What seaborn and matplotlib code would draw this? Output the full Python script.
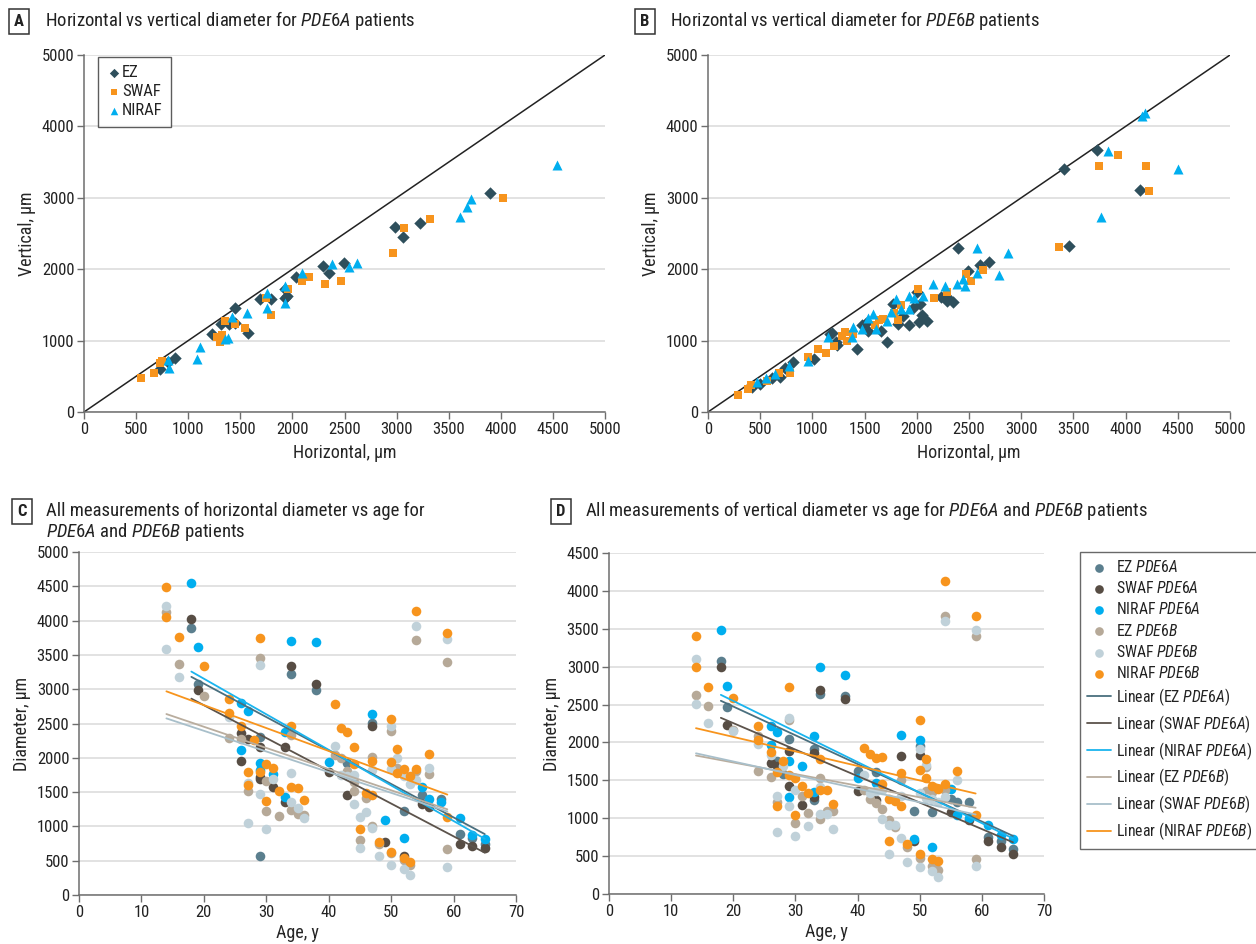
import numpy as np
import pandas as pd
import matplotlib
matplotlib.use('Agg')
import matplotlib.pyplot as plt
import seaborn as sns
from matplotlib import font_manager as fm

# ---------------- Panel A (PDE6A): horizontal vs vertical, um ----------------
a_ez_h = [729, 806, 873, 1228, 1315, 1392, 1449, 1449, 1574, 1689, 1795, 1929, 1929, 1948, 2035, 2294, 2351, 2495, 2985, 3061, 3225, 3896]
a_ez_v = [602, 700, 756, 1092, 1232, 1232, 1457, 1246, 1106, 1583, 1583, 1723, 1597, 1625, 1891, 2045, 1947, 2087, 2591, 2451, 2647, 3067]
a_swaf_h = [547, 672, 729, 749, 1305, 1324, 1276, 1353, 1449, 1545, 1795, 1747, 1958, 2092, 2159, 2313, 2466, 2966, 3071, 3321, 4021]
a_swaf_v = [476, 546, 686, 714, 980, 1078, 1050, 1274, 1232, 1176, 1358, 1597, 1723, 1835, 1891, 1793, 1835, 2227, 2577, 2703, 2997]
a_niraf_h = [816, 806, 1084, 1113, 1353, 1382, 1420, 1564, 1756, 1756, 1929, 1929, 2092, 2380, 2543, 2620, 3608, 3676, 3714, 4539]
a_niraf_v = [616, 728, 742, 910, 1022, 1036, 1330, 1387, 1457, 1667, 1527, 1765, 1947, 2073, 2031, 2087, 2731, 2871, 2983, 3459]

# ---------------- Panel B (PDE6B) ----------------
b_ez_h = [420, 500, 612, 685, 733, 810, 1011, 1170, 1187, 1228, 1235, 1431, 1475, 1517, 1529, 1653, 1710, 1771, 1819, 1867, 1922, 1964, 2000, 2028, 2025, 2054, 2098, 2233, 2293, 2287, 2348, 2487, 2395, 2605, 2692, 3410, 3723, 4138, 3461]
b_ez_v = [346, 393, 472, 495, 621, 705, 739, 1094, 1108, 986, 939, 883, 1220, 1248, 1140, 1136, 977, 1510, 1230, 1351, 1225, 1463, 1687, 1515, 1258, 1365, 1272, 1617, 1608, 1561, 1547, 1981, 2290, 2063, 2105, 3408, 3665, 3104, 2330]
b_swaf_h = [290, 386, 409, 562, 680, 785, 955, 1057, 1130, 1210, 1280, 1315, 1328, 1386, 1600, 1641, 1680, 1785, 1824, 1852, 2015, 2168, 2293, 2468, 2516, 2631, 3365, 3748, 3930, 4195, 4227]
b_swaf_v = [238, 318, 379, 435, 543, 543, 776, 884, 823, 926, 1066, 1126, 1000, 1094, 1220, 1290, 1304, 1384, 1290, 1505, 1720, 1594, 1678, 1931, 1837, 1988, 2315, 3451, 3605, 3451, 3100]
b_niraf_h = [466, 555, 642, 778, 960, 1152, 1386, 1376, 1472, 1529, 1577, 1606, 1715, 1753, 1801, 1849, 1929, 1922, 1970, 2060, 2152, 2270, 2382, 2445, 2462, 2580, 2577, 2787, 2871, 3760, 3835, 4160, 4186, 4505]
b_niraf_v = [425, 472, 533, 645, 715, 1056, 1187, 1056, 1164, 1314, 1374, 1164, 1276, 1398, 1584, 1444, 1627, 1444, 1603, 1627, 1791, 1767, 1791, 1861, 1767, 1945, 2290, 1921, 2226, 2730, 3661, 4152, 4190, 3408]

# ---------------- Panel C: horizontal diameter vs age ----------------
c_ez_a_age = [18, 19, 29, 29, 34, 38, 43, 47, 52, 55, 58, 61, 63, 65]
c_ez_a_um = [3887, 3076, 2308, 565, 3222, 2988, 1920, 2503, 1227, 1458, 1399, 885, 825, 743]
c_swaf_a_age = [18, 19, 26, 27, 29, 26, 29, 29, 31, 33, 33, 34, 38, 40, 43, 47, 49, 52, 55, 56, 61, 63, 65]
c_swaf_a_um = [4023, 2984, 2364, 2274, 2152, 1958, 1723, 1685, 1569, 2162, 1350, 3338, 3076, 1796, 1458, 2463, 767, 569, 1327, 1287, 739, 714, 688]
c_niraf_a_age = [18, 19, 26, 27, 26, 29, 29, 31, 33, 33, 34, 38, 40, 47, 49, 52, 55, 56, 58, 61, 63, 65]
c_niraf_a_um = [4544, 3620, 2794, 2682, 2114, 1928, 1822, 1759, 2381, 1423, 3707, 3688, 1943, 2634, 1093, 835, 1570, 1394, 1350, 1117, 875, 810]
c_ez_b_age = [14, 16, 20, 24, 26, 27, 29, 30, 30, 32, 34, 34, 35, 36, 41, 42, 43, 44, 44, 45, 46, 47, 47, 48, 50, 50, 51, 52, 53, 54, 54, 56, 59, 59]
c_ez_b_um = [4120, 3363, 2905, 2289, 2274, 1516, 3455, 1665, 1227, 1155, 2332, 1239, 1181, 1166, 2041, 2002, 1812, 1643, 1519, 802, 1418, 1006, 2016, 743, 2391, 607, 1846, 510, 432, 3717, 1808, 1764, 3391, 675]
c_swaf_b_age = [14, 14, 16, 24, 27, 27, 29, 29, 30, 31, 34, 34, 35, 36, 41, 42, 43, 44, 44, 45, 45, 46, 47, 47, 48, 50, 50, 50, 51, 52, 52, 53, 53, 54, 54, 56, 59, 59]
c_swaf_b_um = [4217, 3581, 3183, 2590, 1636, 1050, 3353, 1467, 960, 1691, 1778, 1351, 1271, 1117, 2172, 1749, 1735, 1749, 1322, 1141, 680, 1214, 971, 1822, 569, 2463, 1832, 432, 2002, 1735, 374, 1613, 287, 3916, 1676, 1846, 3736, 413]
c_niraf_b_age = [14, 14, 16, 20, 24, 24, 26, 28, 29, 27, 27, 29, 30, 30, 31, 32, 34, 34, 35, 36, 41, 42, 43, 44, 44, 45, 46, 47, 47, 48, 50, 50, 50, 51, 51, 52, 52, 53, 53, 54, 54, 56, 59, 59]
c_niraf_b_um = [4490, 4057, 3756, 3338, 2861, 2657, 2468, 2259, 3742, 1787, 1603, 1787, 1910, 1373, 1846, 1519, 2463, 1574, 1564, 1385, 2784, 2430, 2372, 2153, 1910, 956, 1482, 1458, 1958, 777, 2570, 1934, 627, 2128, 1773, 1832, 544, 1739, 476, 4144, 1837, 2055, 3824, 1141]

# ---------------- Panel D: vertical diameter vs age ----------------
d_ez_a_age = [18, 19, 27, 28, 29, 33, 33, 34, 38, 40, 43, 49, 50, 52, 55, 56, 58, 61, 63, 65]
d_ez_a_um = [3074, 2462, 1749, 1587, 2045, 1235, 1913, 2639, 2607, 1617, 1604, 1090, 1947, 1082, 1253, 1214, 1214, 747, 694, 594]
d_swaf_a_age = [18, 19, 26, 27, 29, 29, 31, 33, 33, 34, 38, 40, 43, 47, 49, 50, 55, 58, 61, 63, 65]
d_swaf_a_um = [2995, 2224, 1728, 1683, 1890, 1429, 1178, 1280, 1860, 2695, 2573, 1363, 1244, 1825, 694, 1829, 1082, 980, 694, 620, 532]
d_niraf_a_age = [18, 19, 26, 27, 26, 29, 29, 31, 33, 33, 34, 38, 40, 43, 47, 49, 50, 52, 55, 56, 58, 61, 63, 65]
d_niraf_a_um = [3487, 2744, 2211, 2132, 1960, 1758, 1280, 1683, 1346, 2079, 2999, 2884, 1530, 1464, 2102, 726, 2036, 620, 1385, 1046, 1003, 914, 782, 726]
d_ez_b_age = [14, 16, 20, 24, 24, 26, 27, 29, 30, 31, 32, 34, 34, 35, 36, 41, 42, 43, 44, 45, 46, 47, 48, 50, 51, 51, 52, 52, 53, 54, 54, 59, 59]
d_ez_b_um = [2629, 2484, 2160, 2079, 1623, 1547, 1214, 2290, 937, 1297, 1069, 1534, 989, 1090, 1090, 1367, 1253, 1200, 1121, 971, 884, 1508, 620, 475, 1675, 1354, 1346, 373, 320, 1376, 3675, 3411, 462]
d_swaf_b_age = [14, 14, 16, 20, 24, 26, 27, 27, 28, 29, 29, 30, 30, 32, 34, 34, 35, 36, 41, 42, 43, 44, 44, 45, 45, 46, 47, 47, 48, 50, 50, 50, 51, 51, 52, 52, 53, 53, 54, 54, 56, 59, 59]
d_swaf_b_um = [3100, 2511, 2256, 2154, 1979, 1838, 1297, 818, 1683, 2317, 1156, 1367, 769, 892, 1412, 1059, 1059, 858, 1574, 1332, 1363, 1376, 993, 914, 532, 914, 1288, 739, 417, 1913, 1332, 356, 1706, 1266, 1253, 298, 1214, 219, 1280, 3606, 1499, 3478, 364]
d_niraf_b_age = [14, 14, 16, 20, 24, 24, 26, 27, 27, 28, 29, 29, 30, 30, 31, 32, 34, 34, 35, 36, 41, 42, 43, 44, 44, 45, 45, 46, 47, 47, 48, 50, 50, 50, 51, 51, 52, 52, 53, 53, 54, 54, 56, 59, 59]
d_niraf_b_um = [3408, 2999, 2735, 2586, 2211, 2035, 1873, 1610, 1156, 1758, 2735, 1574, 1530, 1037, 1420, 1332, 1781, 1367, 1367, 1191, 1926, 1851, 1794, 1807, 1455, 1257, 694, 1222, 1156, 1596, 664, 2290, 1631, 532, 1785, 1530, 1420, 466, 1385, 430, 1455, 4137, 1617, 3671, 1037]

# ---------------- styling ----------------
sns.set_theme(style='white')
names = {f.name for f in fm.fontManager.ttflist}
base = next((n for n in ['Liberation Sans Narrow', 'Roboto Condensed', 'Roboto', 'DejaVu Sans'] if n in names), 'DejaVu Sans')
plt.rcParams['font.family'] = [base, 'DejaVu Sans']
plt.rcParams['mathtext.fontset'] = 'custom'
plt.rcParams['mathtext.rm'] = base
plt.rcParams['mathtext.it'] = base + ':italic'
plt.rcParams['text.color'] = '#222222'

C_EZ = '#2e4f5c'
C_SW = '#f7941d'
C_NI = '#00aeef'
COL6 = {'EZ A': '#5b7f8e', 'SWAF A': '#574d44', 'NIRAF A': '#00aeef',
        'EZ B': '#b6a998', 'SWAF B': '#c0d1d9', 'NIRAF B': '#f7941d'}
LCOL6 = {'EZ A': '#4a6f7e', 'SWAF A': '#5c534b', 'NIRAF A': '#1ab4ee',
         'EZ B': '#b9ad9e', 'SWAF B': '#a8bfca', 'NIRAF B': '#f7941d'}

fig = plt.figure(figsize=(12.56, 9.44), dpi=100)
W, H = 1256, 944
def add_ax(x0, x1, y0, y1):
    return fig.add_axes([x0 / W, 1 - y1 / H, (x1 - x0) / W, (y1 - y0) / H])

axA = add_ax(84, 605, 55, 412)
axB = add_ax(708, 1230, 55, 412)
axC = add_ax(79, 516, 552, 895)
axD = add_ax(609, 1044, 553, 894)

def style(ax):
    for s in ['top', 'right']:
        ax.spines[s].set_visible(False)
    for s in ['left', 'bottom']:
        ax.spines[s].set_color('#6e6e6e')
        ax.spines[s].set_linewidth(1.1)
    ax.yaxis.grid(True, color='#e2e2e2', lw=1.4)
    ax.xaxis.grid(False)
    ax.set_axisbelow(True)
    ax.tick_params(bottom=True, left=True, direction='out', length=5, width=1,
                   color='#6e6e6e', labelsize=12, labelcolor='#222222', pad=2)

for ax, (ez_h, ez_v, sw_h, sw_v, ni_h, ni_v) in [
        (axA, (a_ez_h, a_ez_v, a_swaf_h, a_swaf_v, a_niraf_h, a_niraf_v)),
        (axB, (b_ez_h, b_ez_v, b_swaf_h, b_swaf_v, b_niraf_h, b_niraf_v))]:
    style(ax)
    ax.axline((0, 0), slope=1, color='#222222', lw=1.1, zorder=1)
    sns.scatterplot(x=ez_h, y=ez_v, marker='D', s=40, color=C_EZ, linewidth=0, ax=ax, label='EZ', zorder=3)
    sns.scatterplot(x=sw_h, y=sw_v, marker='s', s=40, color=C_SW, linewidth=0, ax=ax, label='SWAF', zorder=3)
    sns.scatterplot(x=ni_h, y=ni_v, marker='^', s=52, color=C_NI, linewidth=0, ax=ax, label='NIRAF', zorder=3)
    ax.set_xlim(0, 5000)
    ax.set_ylim(0, 5000)
    ax.set_xticks(np.arange(0, 5001, 500))
    ax.set_yticks(np.arange(0, 5001, 1000))
    ax.set_xlabel('Horizontal, µm', fontsize=13, labelpad=5)
    ax.set_ylabel('Vertical, µm', fontsize=13, labelpad=4)

legA = axA.legend(loc='upper left', bbox_to_anchor=(0.027, 0.995), frameon=True, fontsize=12,
                  handletextpad=0.05, borderpad=0.5, labelspacing=0.25, handlelength=0.9,
                  borderaxespad=0, fancybox=False, edgecolor='#333333', markerscale=0.75)
legA.get_frame().set_linewidth(1)
axB.get_legend().remove()

def age_panel(ax, data, ymax, ylabel, legend=False):
    style(ax)
    order = ['EZ A', 'SWAF A', 'NIRAF A', 'EZ B', 'SWAF B', 'NIRAF B']
    labs = {'EZ A': r'EZ $\mathit{PDE6A}$', 'SWAF A': r'SWAF $\mathit{PDE6A}$', 'NIRAF A': r'NIRAF $\mathit{PDE6A}$',
            'EZ B': r'EZ $\mathit{PDE6B}$', 'SWAF B': r'SWAF $\mathit{PDE6B}$', 'NIRAF B': r'NIRAF $\mathit{PDE6B}$'}
    for k in order:
        age, um = data[k]
        sns.scatterplot(x=age, y=um, s=48, color=COL6[k], linewidth=0, ax=ax, label=labs[k], zorder=2)
    for k in order:
        age, um = data[k]
        sns.regplot(x=np.array(age, float), y=np.array(um, float), scatter=False, ci=None, truncate=True,
                    color=LCOL6[k], line_kws=dict(lw=1.3, zorder=3), ax=ax,
                    label='Linear (' + labs[k] + ')')
    ax.set_xlim(0, 70)
    ax.set_ylim(0, ymax)
    ax.set_xticks(np.arange(0, 71, 10))
    ax.set_yticks(np.arange(0, ymax + 1, 500))
    ax.set_xlabel('Age, y', fontsize=13, labelpad=3)
    ax.set_ylabel(ylabel, fontsize=13, labelpad=4)
    lg = ax.get_legend()
    if lg is not None:
        lg.remove()
    if legend:
        h, l = ax.get_legend_handles_labels()
        leg = ax.legend(h, l, loc='upper left', bbox_to_anchor=(1.083, 1.003), frameon=True, fontsize=11.3,
                        handletextpad=0.35, borderpad=0.45, labelspacing=0.33, handlelength=1.5,
                        borderaxespad=0, fancybox=False, edgecolor='#444444', markerscale=0.9)
        leg.get_frame().set_linewidth(1)
        leg.set_clip_on(False)

age_panel(axC, {'EZ A': (c_ez_a_age, c_ez_a_um), 'SWAF A': (c_swaf_a_age, c_swaf_a_um),
                'NIRAF A': (c_niraf_a_age, c_niraf_a_um), 'EZ B': (c_ez_b_age, c_ez_b_um),
                'SWAF B': (c_swaf_b_age, c_swaf_b_um), 'NIRAF B': (c_niraf_b_age, c_niraf_b_um)},
          5000, 'Diameter, µm')
age_panel(axD, {'EZ A': (d_ez_a_age, d_ez_a_um), 'SWAF A': (d_swaf_a_age, d_swaf_a_um),
                'NIRAF A': (d_niraf_a_age, d_niraf_a_um), 'EZ B': (d_ez_b_age, d_ez_b_um),
                'SWAF B': (d_swaf_b_age, d_swaf_b_um), 'NIRAF B': (d_niraf_b_age, d_niraf_b_um)},
          4500, 'Diameter, µm', legend=True)

# ---------------- panel titles ----------------
box = dict(boxstyle='square,pad=0.3', fc='white', ec='#333333', lw=1.1)
def panel_title(letter, bx, by, tx, text):
    fig.text(bx / W, 1 - by / H, letter, fontsize=12, fontweight='bold', ha='center', va='center', bbox=box)
    fig.text(tx / W, 1 - by / H, text, fontsize=13.5, ha='left', va='center')

panel_title('A', 19, 21, 45, r'Horizontal vs vertical diameter for $\mathit{PDE6A}$ patients')
panel_title('B', 645, 21, 670, r'Horizontal vs vertical diameter for $\mathit{PDE6B}$ patients')
fig.text(22 / W, 1 - 511 / H, 'C', fontsize=12, fontweight='bold', ha='center', va='center', bbox=box)
fig.text(46 / W, 1 - 511 / H, 'All measurements of horizontal diameter vs age for', fontsize=13.5, ha='left', va='center')
fig.text(46 / W, 1 - 532 / H, r'$\mathit{PDE6A}$ and $\mathit{PDE6B}$ patients', fontsize=13.5, ha='left', va='center')
panel_title('D', 561, 511, 585, r'All measurements of vertical diameter vs age for $\mathit{PDE6A}$ and $\mathit{PDE6B}$ patients')

fig.savefig('out.png', dpi=100)
